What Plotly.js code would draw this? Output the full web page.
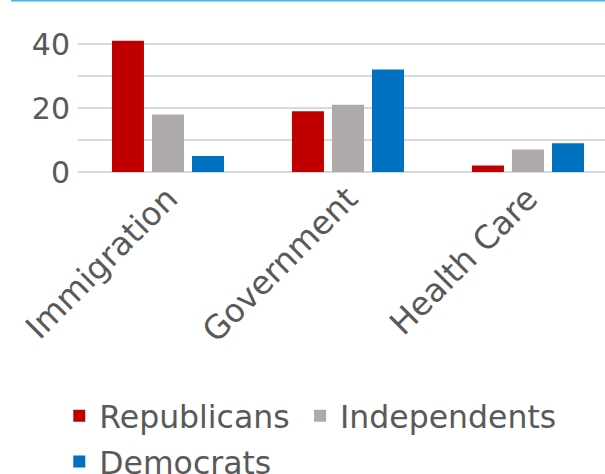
<!DOCTYPE html>
<html>
<head>
<meta charset="utf-8">
<script src="https://cdn.plot.ly/plotly-3.0.1.min.js"></script>
<style>html,body{margin:0;padding:0;background:#fff;}#chart{width:605px;height:474px;}</style>
</head>
<body>
<div id="chart"></div>
<script>
var categories = ["Immigration", "Government", "Health Care"];
var republicans = [41, 19, 2];
var independents = [18, 21, 7];
var democrats = [5, 32, 9];
var yTickVals = [0, 10, 20, 30, 40, 50];
var yTickText = ["0", "", "20", "", "40", ""];

var font = {family: "DejaVu Sans", color: "#595959"};
function tr(name, vals, color, legend) {
  return {type: "bar", name: name, x: categories, y: vals, marker: {color: color},
          legend: legend, legendgroup: name, hoverinfo: "skip"};
}
var data = [
  tr("Republicans", republicans, "#c00000", "legend"),
  tr("Independents", independents, "#aeaaaa", "legend2"),
  tr("Democrats", democrats, "#0070c0", "legend")
];
var legendFont = {family: "DejaVu Sans", size: 31.5, color: "#595959"};
var layout = {
  width: 605, height: 474,
  margin: {l: 78, r: 0, t: 12, b: 302, autoexpand: false},
  paper_bgcolor: "#fff", plot_bgcolor: "#fff",
  font: font,
  barmode: "group", bargap: 0.333, bargroupgap: 0.2,
  xaxis: {range: [-0.5, 2.428], tickangle: -45, tickfont: {family: "DejaVu Sans", size: 32.5, color: "#595959"},
          showgrid: false, zeroline: false, showline: false, ticks: "", automargin: false},
  yaxis: {range: [0, 50], tickvals: yTickVals, ticktext: yTickText,
          tickfont: {family: "DejaVu Sans", size: 30, color: "#595959"},
          gridcolor: "#d9d9d9", gridwidth: 2, zeroline: true, zerolinecolor: "#d9d9d9", zerolinewidth: 2,
          showline: false, ticks: "", ticklabelstandoff: 7, automargin: false},
  legend: {orientation: "v", xref: "container", yref: "container", x: 0.098, y: 0.18, xanchor: "left", yanchor: "top",
           traceorder: "grouped", tracegroupgap: 2,
           font: legendFont, itemclick: false},
  legend2: {orientation: "v", xref: "container", yref: "container", x: 0.496, y: 0.18, xanchor: "left", yanchor: "top",
           font: legendFont, itemclick: false},
  shapes: [{type: "line", xref: "paper", yref: "paper", x0: -0.127, x1: 1, y0: 1.072, y1: 1.072,
            line: {color: "#45b4de", width: 2}}]
};
Plotly.newPlot("chart", data, layout, {displayModeBar: false, staticPlot: true});
</script>
</body>
</html>
